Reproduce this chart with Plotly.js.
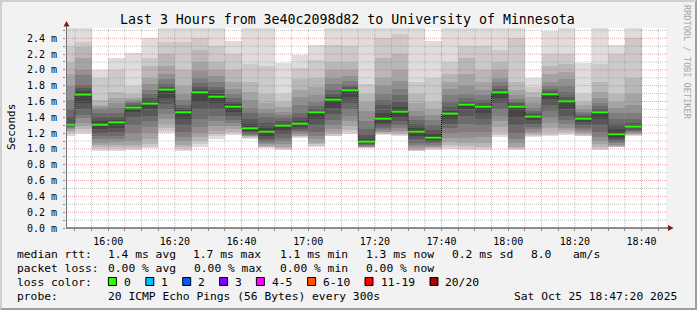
<!DOCTYPE html>
<html><head><meta charset="utf-8">
<script src="https://cdn.plot.ly/plotly-3.0.1.min.js"></script>
<style>
html,body{margin:0;padding:0;background:#f2f2f2;}
#wrap{position:relative;width:697px;height:310px;overflow:hidden;}
#chart{width:697px;height:310px;}
#frame{position:absolute;left:0;top:0;width:697px;height:310px;box-sizing:border-box;border-style:solid;border-width:2px;border-color:#cfcfcf #9e9e9e #9e9e9e #cfcfcf;pointer-events:none;}
</style></head><body>
<div id="wrap"><div id="chart"></div><div id="frame"></div></div>
<script>
// ---- data ----
const binStart = ['15:45','15:50','15:55','16:00','16:05','16:10','16:15','16:20','16:25','16:30','16:35','16:40','16:45','16:50','16:55',
  '17:00','17:05','17:10','17:15','17:20','17:25','17:30','17:35','17:40','17:45','17:50','17:55','18:00','18:05','18:10','18:15','18:20','18:25','18:30','18:35'];
const medianRtt = [1.307,1.687,1.307,1.337,1.523,1.573,1.751,1.464,1.717,1.662,1.535,1.261,1.219,1.295,1.320,1.464,1.624,1.742,1.092,1.383,
  1.472,1.219,1.143,1.447,1.561,1.535,1.717,1.535,1.409,1.692,1.603,1.383,1.464,1.185,1.282];
// 20 sorted ping RTTs (ms) per 5-minute bin
const pingsByBin = [
 [1.17,1.19,1.21,1.23,1.25,1.27,1.28,1.29,1.30,1.30,1.315,1.33,1.40,1.50,1.62,1.80,1.95,2.10,2.30,2.60],
 [1.19,1.22,1.25,1.29,1.33,1.39,1.43,1.50,1.58,1.675,1.70,1.73,1.77,1.81,1.94,2.00,2.15,2.29,2.35,2.65],
 [0.98,1.00,1.02,1.05,1.08,1.12,1.17,1.20,1.25,1.30,1.315,1.35,1.40,1.45,1.50,1.53,1.56,1.62,1.90,2.00],
 [0.98,1.00,1.02,1.05,1.09,1.13,1.17,1.22,1.27,1.325,1.345,1.37,1.41,1.46,1.52,1.58,1.65,1.72,2.00,2.15],
 [0.99,1.00,1.02,1.05,1.10,1.20,1.30,1.40,1.47,1.52,1.535,1.545,1.56,1.58,1.60,1.62,1.65,1.70,1.80,2.22],
 [1.01,1.03,1.06,1.12,1.20,1.28,1.35,1.42,1.50,1.565,1.585,1.61,1.65,1.70,1.75,1.82,1.90,2.05,2.15,2.40],
 [1.20,1.23,1.27,1.32,1.38,1.44,1.50,1.57,1.65,1.748,1.76,1.77,1.79,1.82,1.88,1.95,2.05,2.20,2.35,2.65],
 [0.98,1.00,1.02,1.05,1.10,1.15,1.22,1.30,1.38,1.45,1.47,1.49,1.52,1.56,1.62,1.70,1.80,2.00,2.35,2.60],
 [1.02,1.06,1.10,1.15,1.20,1.28,1.38,1.50,1.60,1.705,1.72,1.75,1.79,1.83,1.90,1.98,2.10,2.25,2.40,2.60],
 [1.13,1.16,1.19,1.23,1.29,1.35,1.42,1.50,1.58,1.66,1.68,1.70,1.74,1.79,1.85,1.92,2.00,2.10,2.30,2.60],
 [1.18,1.20,1.22,1.25,1.29,1.33,1.37,1.42,1.47,1.525,1.55,1.57,1.60,1.64,1.70,1.76,1.85,2.00,2.20,2.36],
 [1.13,1.14,1.15,1.16,1.17,1.18,1.19,1.21,1.23,1.25,1.27,1.31,1.38,1.45,1.52,1.62,1.72,1.85,2.07,2.60],
 [1.01,1.02,1.03,1.04,1.06,1.08,1.10,1.13,1.17,1.21,1.235,1.27,1.33,1.40,1.45,1.50,1.58,1.70,2.05,2.60],
 [0.99,1.00,1.01,1.03,1.06,1.10,1.14,1.19,1.24,1.29,1.305,1.32,1.35,1.39,1.43,1.47,1.53,1.60,1.70,2.09],
 [1.14,1.15,1.16,1.17,1.19,1.21,1.23,1.25,1.28,1.315,1.33,1.35,1.40,1.46,1.56,1.66,1.75,1.88,2.02,2.19],
 [1.03,1.04,1.06,1.08,1.12,1.17,1.22,1.30,1.38,1.455,1.465,1.48,1.50,1.54,1.60,1.68,1.78,1.90,2.13,2.32],
 [1.16,1.17,1.19,1.21,1.25,1.30,1.36,1.44,1.52,1.62,1.64,1.66,1.70,1.75,1.82,1.90,2.00,2.10,2.32,2.60],
 [1.19,1.21,1.24,1.29,1.35,1.42,1.50,1.58,1.66,1.74,1.75,1.76,1.78,1.81,1.86,1.92,2.00,2.10,2.30,2.60],
 [1.01,1.015,1.02,1.025,1.03,1.04,1.05,1.06,1.07,1.09,1.105,1.13,1.18,1.25,1.35,1.48,1.60,1.70,1.82,2.60],
 [1.18,1.19,1.20,1.21,1.22,1.24,1.26,1.29,1.33,1.375,1.40,1.45,1.55,1.62,1.70,1.80,1.90,2.15,2.40,2.60],
 [1.17,1.18,1.19,1.21,1.23,1.26,1.30,1.35,1.40,1.465,1.49,1.53,1.60,1.68,1.76,1.86,2.00,2.20,2.45,2.60],
 [0.97,0.98,0.99,1.00,1.02,1.05,1.08,1.12,1.17,1.21,1.235,1.26,1.31,1.37,1.42,1.48,1.58,1.70,1.85,2.60],
 [0.99,1.00,1.01,1.02,1.03,1.05,1.07,1.09,1.11,1.135,1.16,1.19,1.24,1.30,1.37,1.43,1.50,1.60,1.90,2.37],
 [1.00,1.02,1.05,1.09,1.14,1.20,1.26,1.32,1.38,1.44,1.455,1.48,1.53,1.60,1.68,1.76,1.85,1.95,2.10,2.60],
 [0.99,1.01,1.04,1.08,1.14,1.22,1.32,1.42,1.50,1.555,1.565,1.58,1.60,1.64,1.70,1.80,1.95,2.15,2.30,2.60],
 [0.99,1.01,1.03,1.08,1.15,1.22,1.30,1.38,1.45,1.535,1.545,1.555,1.58,1.62,1.68,1.75,1.85,2.00,2.30,2.60],
 [1.15,1.18,1.22,1.28,1.35,1.42,1.50,1.58,1.64,1.705,1.72,1.73,1.76,1.80,1.85,1.90,2.00,2.10,2.25,2.60],
 [0.99,1.00,1.01,1.03,1.07,1.12,1.20,1.30,1.40,1.53,1.545,1.555,1.575,1.60,1.63,1.68,1.75,1.85,2.40,2.60],
 [1.15,1.16,1.18,1.20,1.22,1.25,1.28,1.32,1.37,1.405,1.42,1.43,1.45,1.48,1.52,1.58,1.66,1.72,1.78,1.90],
 [1.16,1.18,1.22,1.27,1.33,1.40,1.48,1.56,1.63,1.685,1.70,1.71,1.73,1.76,1.80,1.85,1.95,2.05,2.20,2.49],
 [1.18,1.20,1.22,1.24,1.27,1.31,1.36,1.42,1.50,1.59,1.605,1.62,1.66,1.72,1.80,1.88,1.97,2.08,2.20,2.60],
 [1.16,1.17,1.18,1.20,1.22,1.24,1.27,1.30,1.34,1.375,1.39,1.40,1.42,1.44,1.47,1.50,1.55,1.60,1.70,2.09],
 [0.99,1.00,1.02,1.06,1.10,1.15,1.22,1.30,1.38,1.45,1.47,1.48,1.50,1.54,1.58,1.64,1.72,1.85,2.08,2.60],
 [1.02,1.025,1.03,1.04,1.05,1.07,1.09,1.11,1.14,1.17,1.20,1.25,1.32,1.38,1.45,1.52,1.60,1.70,2.20,2.32],
 [1.17,1.175,1.18,1.19,1.20,1.21,1.23,1.24,1.26,1.275,1.29,1.30,1.33,1.38,1.45,1.55,1.70,1.90,2.40,2.60]
];
const yTickVals = [0,0.2,0.4,0.6,0.8,1.0,1.2,1.4,1.6,1.8,2.0,2.2,2.4];
const yTickText = ['0.0 m','0.2 m','0.4 m','0.6 m','0.8 m','1.0 m','1.2 m','1.4 m','1.6 m','1.8 m','2.0 m','2.2 m','2.4 m'];
const xTickLabels = ['16:00','16:20','16:40','17:00','17:20','17:40','18:00','18:20','18:40'];
const lossLabels = ['0','1','2','3','4-5','6-10','11-19','20/20'];
const lossColors = ['#26ff00','#00b8ff','#0059ff','#7e00ff','#ff00ff','#ff5500','#ff0000','#a10000'];
const rangeStart = '15:47:20', rangeEnd = '18:47:20';
const DAY = '2025-10-25';

// ---- helpers ----
const toMs = s => Date.parse(DAY + 'T' + (s.length === 5 ? s + ':00' : s) + 'Z');
const BIN = 5 * 60 * 1000;
const xs = binStart.map(toMs);
const L = 66, W = 600, T = 28, H = 200, BOT = 228;
const PX = px => (px - L) / W;
const PY = py => (BOT - py) / H;

// ---- smoke traces ----
const traces = [];
const N = 20, half = 10;
for (let k = 0; k < N - 1; k++) {
  const layer = Math.min(k + 1, N - 1 - k);
  const g = Math.floor(190 / half * (half - layer)) + 50;
  const col = 'rgb(' + g + ',' + g + ',' + g + ')';
  traces.push({
    type: 'bar', x: xs, base: pingsByBin.map(p => p[k]),
    y: pingsByBin.map(p => p[k + 1] - p[k]),
    width: BIN, offset: 0,
    marker: {color: col, line: {width: 0}},
    hoverinfo: 'skip', showlegend: false
  });
}
// median step connector (dotted black)
traces.push({
  type: 'scatter', mode: 'lines',
  x: xs.concat([xs[xs.length - 1] + BIN]), y: medianRtt.concat([medianRtt[medianRtt.length - 1]]),
  line: {shape: 'hv', color: '#000', width: 1, dash: '1px,1px'}, showlegend: false, hoverinfo: 'skip'
});
// green median segments
const mx = [], my = [];
xs.forEach((x, i) => { mx.push(x, x + BIN, null); my.push(medianRtt[i], medianRtt[i], null); });
traces.push({type: 'scatter', mode: 'lines', x: mx, y: my, line: {color: lossColors[0], width: 2}, showlegend: false, hoverinfo: 'skip'});

// ---- grid shapes (drawn above the smoke, as rrdtool does) ----
const shapes = [];
const minorCol = 'rgba(143,143,143,0.55)', majorCol = 'rgba(222,79,79,0.5)';
for (let t = toMs('15:50'); t <= toMs('18:45'); t += BIN) {
  const major = ((t - toMs('16:00')) % (20 * 60 * 1000)) === 0;
  shapes.push({type: 'line', layer: 'above', xref: 'x', yref: 'paper', x0: t, x1: t, y0: 0, y1: 1,
    line: {color: major ? majorCol : minorCol, width: 1, dash: '1px,1px'}});
}
for (let i = 1; i <= 25; i++) {
  const v = i / 10, major = i % 2 === 0;
  shapes.push({type: 'line', layer: 'above', xref: 'paper', yref: 'y', x0: 0, x1: PX(668), y0: v, y1: v,
    line: {color: major ? majorCol : minorCol, width: 1, dash: '1px,1px'}});
}
// axes lines and arrows
shapes.push({type: 'line', layer: 'above', xref: 'paper', yref: 'paper', x0: PX(66), x1: PX(669), y0: PY(228), y1: PY(228), line: {color: '#1f1f1f', width: 1}});
shapes.push({type: 'line', layer: 'above', xref: 'paper', yref: 'paper', x0: PX(66.5), x1: PX(66.5), y0: PY(228), y1: PY(25), line: {color: '#707070', width: 1}});
shapes.push({type: 'path', layer: 'above', xref: 'paper', yref: 'paper',
  path: 'M' + PX(668) + ',' + PY(225) + ' L' + PX(673.5) + ',' + PY(228) + ' L' + PX(668) + ',' + PY(231) + ' Z',
  fillcolor: '#801f1f', line: {width: 0}});
shapes.push({type: 'path', layer: 'above', xref: 'paper', yref: 'paper',
  path: 'M' + PX(63.5) + ',' + PY(26.5) + ' L' + PX(66.5) + ',' + PY(21) + ' L' + PX(69.5) + ',' + PY(26.5) + ' Z',
  fillcolor: '#801f1f', line: {width: 0}});

// ---- texts ----
const MONO = 'DejaVu Sans Mono';
const ann = [];
function txt(text, px, py, size, opts) {
  ann.push(Object.assign({text: text, x: PX(px), y: PY(py), xref: 'paper', yref: 'paper', showarrow: false,
    xanchor: 'left', yanchor: 'middle', borderpad: 0, font: {family: MONO, size: size, color: '#000'}}, opts || {}));
}
txt('Last 3 Hours from 3e40c2098d82 to University of Minnesota', 347.5, 19, 13.25, {xanchor: 'center'});
txt('Seconds', 11, 127, 11, {xanchor: 'center', textangle: -90});
txt('RRDTOOL / TOBI OETIKER', 687, 62, 8.6, {xanchor: 'center', textangle: 90, font: {family: MONO, size: 8.6, color: '#a8a8a8'}});

const FS = 11.3;
const line1 = [['median rtt:', 16], ['1.4 ms avg', 106.7], ['1.7 ms max', 192.4], ['1.1 ms min', 279], ['1.3 ms now', 365], ['0.2 ms sd', 451], ['8.0', 530], ['am/s', 572]];
const line2 = [['packet loss:', 16], ['0.00 % avg', 107], ['0.00 % max', 193], ['0.00 % min', 279], ['0.00 % now', 365]];
const line4 = [['probe:', 16], ['20 ICMP Echo Pings (56 Bytes) every 300s', 107], ['Sat Oct 25 18:47:20 2025', 513]];
line1.forEach(s => txt(s[0], s[1], 254.5, FS));
line2.forEach(s => txt(s[0], s[1], 268.5, FS));
line4.forEach(s => txt(s[0], s[1], 296.5, FS));
txt('loss color:', 16, 282.5, FS);
const sqX = [108.4, 145.8, 182.7, 219.6, 256.4, 307.6, 365, 430];
const lbX = [123, 160, 197, 234, 271, 321.8, 380, 444];
lossLabels.forEach((lab, i) => {
  shapes.push({type: 'rect', layer: 'above', xref: 'paper', yref: 'paper', x0: PX(sqX[i]), x1: PX(sqX[i] + 8), y0: PY(277.5), y1: PY(285.5),
    fillcolor: lossColors[i], line: {color: '#000', width: 1}});
  txt(lab, lbX[i], 282.5, FS);
});

const layout = {
  width: 697, height: 310,
  margin: {l: L, r: 697 - L - W, t: T, b: 310 - T - H, pad: 0},
  paper_bgcolor: '#f2f2f2', plot_bgcolor: '#ffffff',
  barmode: 'overlay', bargap: 0, showlegend: false,
  xaxis: {type: 'date', range: [toMs(rangeStart), toMs(rangeEnd)], showgrid: false, zeroline: false, showline: false,
    tickvals: xTickLabels.map(toMs), ticktext: xTickLabels,
    ticks: 'outside', ticklen: 2, tickcolor: '#888', ticklabelstandoff: 2,
    minor: {dtick: BIN, tick0: toMs('16:00'), ticks: 'outside', ticklen: 2, tickcolor: '#888', showgrid: false},
    tickfont: {family: MONO, size: 10, color: '#000'}, fixedrange: true},
  yaxis: {range: [0, 2.53], showgrid: false, zeroline: false, showline: false,
    tickvals: yTickVals, ticktext: yTickText,
    ticks: 'outside', ticklen: 2, tickcolor: '#888', ticklabelstandoff: 4,
    minor: {dtick: 0.1, tick0: 0, ticks: 'outside', ticklen: 2, tickcolor: '#888', showgrid: false},
    tickfont: {family: MONO, size: 10, color: '#000'}, fixedrange: true},
  shapes: shapes, annotations: ann
};
Plotly.newPlot('chart', traces, layout, {staticPlot: true, displayModeBar: false});
</script>
</body></html>
